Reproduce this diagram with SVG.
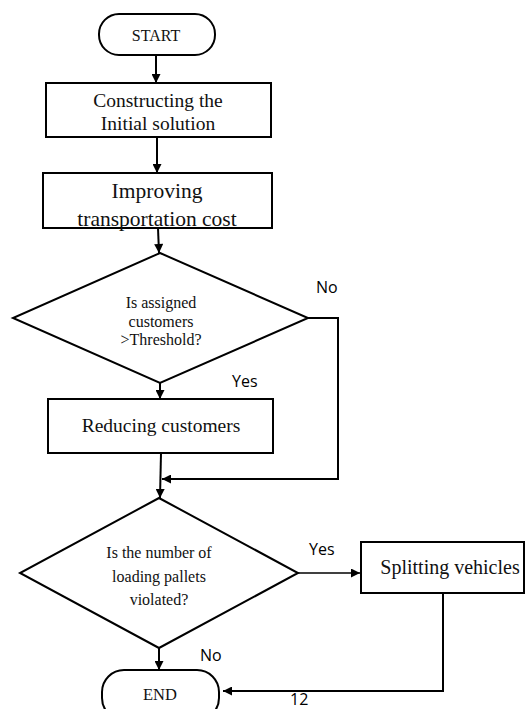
<svg xmlns="http://www.w3.org/2000/svg" width="526" height="709" viewBox="0 0 526 709">
<style>
.shape{fill:#fff;stroke:#000;stroke-width:2}
.line{fill:none;stroke:#000;stroke-width:2}
.thin{fill:none;stroke:#000;stroke-width:1.3}
.t{font-family:"Liberation Serif","Times New Roman",serif;fill:#111;text-anchor:middle}
.s{font-family:"Open Sans","Liberation Sans",Arial,sans-serif;fill:#000;font-size:16px}
</style>
<defs>
<marker id="ah" viewBox="0 0 10 10" refX="10" refY="5" markerWidth="10" markerHeight="9" markerUnits="userSpaceOnUse" orient="auto">
<path d="M0,0 L10,5 L0,10 Z" fill="#000"/>
</marker>
</defs>
<rect width="526" height="709" fill="#fff"/>
<g id="connectors">
<line class="line" x1="156" y1="55" x2="156" y2="83" marker-end="url(#ah)"/>
<line class="line" x1="157" y1="137" x2="157" y2="173" marker-end="url(#ah)"/>
<line class="line" x1="158" y1="228" x2="159" y2="253" marker-end="url(#ah)"/>
<line class="line" x1="160" y1="383" x2="160" y2="399" marker-end="url(#ah)"/>
<polyline class="line" points="308,318 338,318 338,479 162,479" marker-end="url(#ah)"/>
<line class="line" x1="161" y1="453" x2="160" y2="498" marker-end="url(#ah)"/>
<line class="thin" x1="298" y1="573" x2="360" y2="573" marker-end="url(#ah)"/>
<line class="line" x1="159" y1="648" x2="159" y2="670" marker-end="url(#ah)"/>
<polyline class="line" points="443,593 443,691 223,691" marker-end="url(#ah)"/>
<text class="s" x="316" y="293">No</text>
<text class="s" x="232" y="387">Yes</text>
<text class="s" x="309" y="555">Yes</text>
<text class="s" x="200" y="661">No</text>
<text class="s" x="290" y="705" font-size="15">12</text>
</g>
<g id="start">
<rect class="shape" x="99" y="14" width="116" height="41" rx="20" ry="20"/>
<text class="t" x="156" y="41" font-size="16">START</text>
</g>
<g id="construct">
<rect class="shape" x="46" y="83" width="225" height="54"/>
<text class="t" x="158" y="107" font-size="19.5">Constructing the</text>
<text class="t" x="158" y="130" font-size="19.5">Initial solution</text>
</g>
<g id="improve">
<rect class="shape" x="43" y="173" width="229" height="55"/>
<text class="t" x="157" y="198" font-size="21.5">Improving</text>
<text class="t" x="157" y="226" font-size="21.5">transportation cost</text>
</g>
<g id="decision1">
<polygon class="shape" points="160,253 308,318 160,383 13,318"/>
<text class="t" x="161" y="308" font-size="16">Is assigned</text>
<text class="t" x="161" y="327" font-size="16">customers</text>
<text class="t" x="161" y="345" font-size="16">&gt;Threshold?</text>
</g>
<g id="reduce">
<rect class="shape" x="48" y="399" width="225" height="54"/>
<text class="t" x="161" y="432" font-size="19.5">Reducing customers</text>
</g>
<g id="decision2">
<polygon class="shape" points="159,498 298,573 159,648 20,573"/>
<text class="t" x="159" y="558" font-size="16">Is the number of</text>
<text class="t" x="159" y="582" font-size="16">loading pallets</text>
<text class="t" x="159" y="605" font-size="16">violated?</text>
</g>
<g id="split">
<rect class="shape" x="361" y="542" width="163" height="51"/>
<text class="t" x="450" y="574" font-size="20">Splitting vehicles</text>
</g>
<g id="end">
<rect class="shape" x="102" y="670" width="117" height="50" rx="22" ry="22"/>
<text class="t" x="160" y="700" font-size="16.5">END</text>
</g>
</svg>
